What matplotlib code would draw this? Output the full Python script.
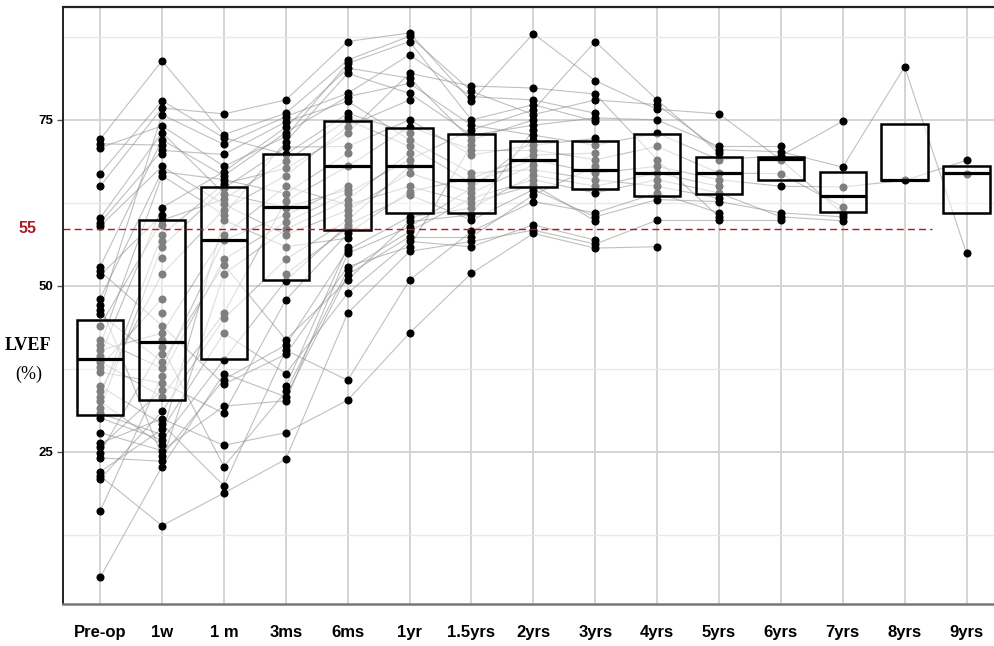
import matplotlib
matplotlib.use("Agg")
import matplotlib.pyplot as plt
from matplotlib.transforms import blended_transform_factory

categories = ["Pre-op", "1w", "1 m", "3ms", "6ms", "1yr", "1.5yrs", "2yrs",
              "3yrs", "4yrs", "5yrs", "6yrs", "7yrs", "8yrs", "9yrs"]

# LVEF values per time point (patient order within each list links the lines)
preop = [44.0, 72.1, 30.1, 52.9, 24.9, 38.6, 65.0, 21.4, 41.1, 34.9, 59.5, 16.1, 47.2, 33.3,
         26.3, 70.8, 40.3, 22.0, 46.4, 37.0, 6.1, 31.6, 59.0, 45.7, 27.9, 39.5, 52.2, 20.9,
         34.1, 66.9, 24.1, 41.9, 48.1, 30.8, 60.2, 25.8, 37.8, 51.6, 32.6, 71.4]
w1 = [59.9, 83.9, 26.8, 72.0, 40.8, 33.3, 76.8, 13.9, 66.6, 29.2, 70.4, 36.5, 24.4, 57.7,
      30.0, 74.1, 42.9, 28.4, 75.8, 35.4, 22.8, 55.9, 68.0, 38.6, 25.2, 61.8, 44.0, 31.1,
      51.8, 77.9, 23.6, 37.6, 67.2, 27.6, 73.1, 34.3, 48.1, 60.7, 26.0, 71.2,
      69.8, 59.1, 56.7, 54.2, 45.9, 41.9, 39.8]
m1 = [63.1, 72.8, 38.9, 66.6, 22.8, 45.9, 75.9, 18.8, 60.7, 19.9, 69.8, 54.0, 35.9, 65.4,
      26.0, 68.0, 57.7, 42.9, 71.3, 30.8, 36.8, 64.7, 62.3, 53.2, 31.9, 67.2, 35.2, 45.1,
      61.5, 72.3, 51.8, 56.9, 66.0, 59.9, 63.9]
m3 = [68.8, 76.0, 50.8, 73.1, 34.1, 62.8, 78.0, 23.9, 71.7, 40.3, 74.7, 59.6, 41.1, 67.7,
      27.9, 72.5, 65.0, 36.8, 75.5, 47.9, 33.3, 70.9, 57.7, 41.9, 32.7, 73.9, 39.7, 54.0,
      66.6, 69.8, 58.5, 60.7, 63.9, 55.9, 61.8, 51.8, 34.9]
m6 = [75.0, 84.0, 59.2, 78.5, 52.4, 68.0, 86.8, 45.9, 82.0, 35.8, 77.8, 64.0, 55.4, 73.0,
      32.8, 83.5, 62.2, 48.9, 79.0, 57.9, 51.7, 71.0, 61.4, 50.9, 54.9, 82.8, 52.9, 59.9,
      74.0, 76.0, 63.0, 65.0, 70.0, 57.2, 64.5, 58.7, 55.9, 75.5, 60.7]
y1 = [71.0, 87.6, 63.7, 80.5, 58.2, 74.0, 88.1, 55.2, 79.0, 50.9, 72.0, 69.0, 60.4, 82.0,
      42.9, 86.8, 65.0, 56.7, 84.8, 64.2, 57.4, 75.0, 67.0, 59.7, 58.9, 81.3, 55.9, 68.0,
      78.0, 73.0, 70.0]
y1_5 = [65.5, 79.3, 59.9, 74.2, 63.2, 70.5, 77.8, 56.7, 72.7, 58.2, 67.0, 73.5, 61.7, 80.1,
        51.9, 75.0, 62.5, 55.9, 78.5, 66.2, 57.4, 69.7, 64.0, 60.7, 64.7, 72.0, 71.2]
y2 = [69.0, 75.8, 64.5, 72.7, 66.0, 70.5, 88.0, 58.4, 74.2, 62.7, 67.5, 76.5, 66.7, 79.8,
      57.9, 77.3, 65.2, 59.2, 78.0, 69.7, 63.7, 71.2, 68.2, 73.5, 72.0, 75.0]
y3 = [67.0, 78.0, 60.4, 71.2, 64.0, 69.0, 80.9, 56.3, 75.3, 61.0, 66.0, 86.8, 65.0, 78.9,
      55.7, 74.8, 59.8, 56.9, 76.0, 70.0, 68.0, 72.2]
y4 = [68.0, 77.3, 63.0, 73.0, 66.0, 71.0, 76.6, 59.9, 75.0, 64.0, 65.0, 78.0, 67.0, 69.0, 55.9]
y5 = [66.0, 70.5, 62.7, 69.0, 64.0, 67.0, 75.9, 59.9, 71.0, 61.0, 63.2, 70.0, 65.0, 60.4]
y6 = [65.0, 70.2, 61.0, 69.6, 60.4, 66.9, 69.0, 59.9, 71.0]
y7 = [64.9, 67.9, 60.4, 74.8, 59.8, 61.9, 60.9]
y8 = [65.9, 83.0]
y9 = [68.9, 54.9, 66.9]

series = [preop, w1, m1, m3, m6, y1, y1_5, y2, y3, y4, y5, y6, y7, y8, y9]

# box statistics
box_q1 = [30.6, 32.8, 39.0, 50.9, 58.4, 61.0, 61.0, 64.9, 64.6, 63.6, 63.8, 66.0, 61.1, 65.9, 61.0]
box_med = [39.0, 41.6, 56.9, 61.9, 68.0, 68.0, 65.9, 68.9, 67.4, 67.0, 67.0, 69.1, 63.5, 65.9, 67.0]
box_q3 = [44.9, 59.9, 64.9, 69.9, 74.9, 73.8, 72.9, 71.8, 71.8, 72.9, 69.4, 69.4, 67.1, 74.4, 68.0]

threshold_label = "55"
threshold_pos = 58.6

fig = plt.figure(figsize=(9.95, 6.46), dpi=100)
ax = fig.add_axes([63 / 995, 1 - 604 / 646, 932 / 995, 597 / 646])

xs = list(range(len(categories)))

# spaghetti lines
for t in range(len(series) - 1):
    a, b = series[t], series[t + 1]
    for i in range(min(len(a), len(b))):
        ax.plot([t, t + 1], [a[i], b[i]], color="#8c8c8c", lw=0.8, alpha=0.55, zorder=2,
                solid_capstyle="round")

# points
for t, vals in enumerate(series):
    ax.plot([t] * len(vals), vals, "o", color="black", ms=5.8, mew=0, zorder=3)

# boxes
stats = [dict(med=m, q1=a, q3=b, whislo=a, whishi=b, fliers=[])
         for a, m, b in zip(box_q1, box_med, box_q3)]
ax.bxp(stats, positions=xs, widths=0.75, patch_artist=True, showcaps=False,
       showfliers=False, manage_ticks=False, zorder=4,
       boxprops=dict(facecolor=(1, 1, 1, 0.5), edgecolor="black", linewidth=1.8),
       medianprops=dict(color="black", linewidth=2.3, solid_capstyle="butt"),
       whiskerprops=dict(linewidth=0))

# threshold line
ax.plot([-0.6, 13.44], [threshold_pos, threshold_pos], color="#b3191c", lw=1.0,
        dashes=(5, 3), zorder=5)
tr = blended_transform_factory(ax.transAxes, ax.transData)
ax.text(-0.0386, threshold_pos, threshold_label, transform=tr, color="#b3191c",
        fontweight="bold", fontsize=11.5, family="Liberation Sans", ha="center", va="center")

# axes styling
ax.set_xlim(-0.6, 14.46)
ax.set_ylim(2.1, 92.0)
ax.set_xticks(xs)
ax.set_xticklabels(categories, fontsize=12, fontweight="bold", family="Liberation Sans")
ax.set_yticks([25, 50, 75])
ax.set_yticklabels(["25", "50", "75"], fontsize=9.5, family="Liberation Sans",
                   fontweight="bold")
ax.set_yticks([12.5, 37.5, 62.5, 87.5], minor=True)
ax.tick_params(axis="x", length=0, pad=15)
ax.tick_params(axis="y", which="major", length=4, width=1, color="#555555", pad=3)
ax.tick_params(axis="y", which="minor", length=0)
ax.grid(axis="y", which="major", color="#d4d4d4", lw=1.4)
ax.grid(axis="y", which="minor", color="#e9e9e9", lw=1.0)
ax.grid(axis="x", which="major", color="#d4d4d4", lw=1.4)
ax.set_axisbelow(True)

ax.spines["right"].set_visible(False)
ax.spines["top"].set_color("#222222")
ax.spines["top"].set_linewidth(1.6)
ax.spines["left"].set_color("#222222")
ax.spines["left"].set_linewidth(1.4)
ax.spines["bottom"].set_color("#777777")
ax.spines["bottom"].set_linewidth(1.8)

fig.text(28 / 995, 1 - 346 / 646, "LVEF", family="Liberation Serif", fontsize=13,
         fontweight="bold", ha="center", va="center")
fig.text(29 / 995, 1 - 374 / 646, "(%)", family="Liberation Serif", fontsize=13,
         ha="center", va="center")

fig.savefig("out.png", dpi=100)
